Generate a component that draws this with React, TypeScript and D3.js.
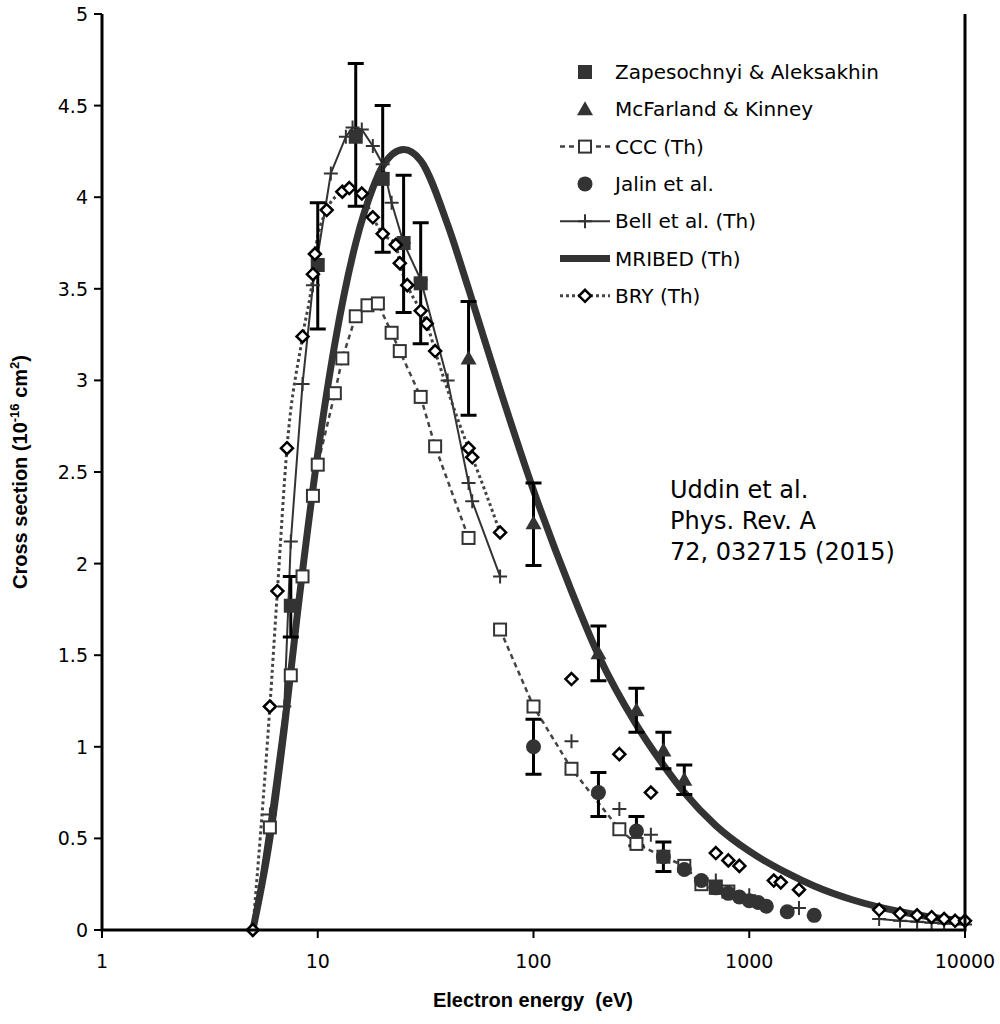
import React from "react";
import * as d3 from "d3";

type P = [number, number];
type E = [number, number, number, number];

const zapesochnyi: E[] = [[7.5, 1.77, 1.6, 1.93], [10, 3.63, 3.28, 3.97], [15, 4.33, 3.95, 4.73], [20, 4.1, 3.7, 4.5], [25, 3.75, 3.37, 4.12], [30, 3.53, 3.2, 3.86]];
const mcfarland: E[] = [[50, 3.12, 2.81, 3.43], [100, 2.22, 1.99, 2.44], [200, 1.51, 1.36, 1.66], [300, 1.2, 1.08, 1.32], [400, 0.98, 0.88, 1.08], [500, 0.82, 0.74, 0.9]];
const jalinErr: E[] = [[100, 1.0, 0.85, 1.15], [200, 0.75, 0.62, 0.86], [300, 0.54, 0.46, 0.62], [400, 0.4, 0.32, 0.48]];
const jalin: P[] = [[500, 0.33], [600, 0.27], [700, 0.23], [800, 0.2], [900, 0.18], [1000, 0.16], [1100, 0.15], [1200, 0.13], [1500, 0.1], [2000, 0.08]];
const cccA: P[] = [[6, 0.56], [7.5, 1.39], [8.5, 1.93], [9.5, 2.37], [10, 2.54], [12, 2.93], [13, 3.12], [15, 3.35], [17, 3.41], [19, 3.42], [22, 3.26], [24, 3.16], [30, 2.91], [35, 2.64], [50, 2.14]];
const cccB: P[] = [[70, 1.64], [100, 1.22], [150, 0.88], [250, 0.55], [300, 0.47], [400, 0.4], [500, 0.35], [600, 0.25], [700, 0.23], [800, 0.21]];
const bellA: P[] = [[5, 0], [6, 0.63], [7, 1.22], [7.5, 2.12], [8.5, 2.98], [9.5, 3.52], [11.5, 4.13], [13.5, 4.33], [14.5, 4.38], [16, 4.37], [18, 4.28], [20, 4.18], [22, 3.97], [25, 3.75], [30, 3.55], [40, 3.0], [50, 2.44], [52, 2.34], [70, 1.93]];
const bellB: P[] = [[150, 1.03], [250, 0.66], [350, 0.52], [700, 0.27], [1000, 0.19], [1700, 0.12]];
const bellC: P[] = [[4000, 0.06], [5000, 0.05], [6000, 0.045], [7000, 0.04], [8000, 0.035], [10000, 0.03]];
const bryA: P[] = [[5, 0], [6, 1.22], [6.5, 1.85], [7.2, 2.63], [8.5, 3.24], [9.5, 3.58], [9.7, 3.69], [11, 3.93], [13, 4.03], [14, 4.05], [16, 4.02], [18, 3.89], [20, 3.8], [23, 3.74], [24, 3.64], [26, 3.52], [30, 3.38], [32, 3.31], [35, 3.16], [50, 2.63], [52, 2.58], [70, 2.17]];
const bryB: P[] = [[150, 1.37], [250, 0.96], [350, 0.75], [700, 0.42], [800, 0.38], [900, 0.35], [1300, 0.27], [1400, 0.26], [1700, 0.22], [4000, 0.11], [5000, 0.09], [6000, 0.08], [7000, 0.07], [8000, 0.06], [9000, 0.05], [10000, 0.05]];
const mribed: P[] = [[5, 0], [6, 0.5], [7, 1.1], [8, 1.7], [10, 2.6], [12, 3.2], [15, 3.75], [18, 4.05], [20, 4.17], [25, 4.26], [30, 4.2], [40, 3.85], [50, 3.5], [70, 2.95], [100, 2.4], [150, 1.85], [200, 1.5], [300, 1.12], [400, 0.9], [500, 0.75], [700, 0.57], [1000, 0.43], [1500, 0.31], [2000, 0.24], [3000, 0.165], [5000, 0.1], [7000, 0.07], [10000, 0.05]];

const xTicks = [1, 10, 100, 1000, 10000];
const yTicks = [0, 0.5, 1, 1.5, 2, 2.5, 3, 3.5, 4, 4.5, 5];
const legendItems = ["Zapesochnyi & Aleksakhin", "McFarland & Kinney", "CCC (Th)", "Jalin et al.", "Bell et al. (Th)", "MRIBED (Th)", "BRY (Th)"];
const note = ["Uddin et al.", "Phys. Rev. A", "72, 032715 (2015)"];

const C = "#333";
const x = d3.scaleLog().domain([1, 10000]).range([102, 965]);
const y = d3.scaleLinear().domain([0, 5]).range([930, 14]);
const line = d3.line<P>().x(d => x(d[0])).y(d => y(d[1]));
const curve = d3.line<P>().x(d => x(d[0])).y(d => y(d[1])).curve(d3.curveMonotoneX);

const Sq = ({ cx, cy, fill }: { cx: number; cy: number; fill: string }) => <rect x={cx - 6} y={cy - 6} width={12} height={12} fill={fill} stroke={C} strokeWidth={2} />;
const Tri = ({ cx, cy }: { cx: number; cy: number }) => <path d={`M${cx},${cy - 8}L${cx + 8},${cy + 6}L${cx - 8},${cy + 6}Z`} fill={C} />;
const Dot = ({ cx, cy }: { cx: number; cy: number }) => <circle cx={cx} cy={cy} r={7.5} fill={C} />;
const Plus = ({ cx, cy }: { cx: number; cy: number }) => <path d={`M${cx - 7},${cy}H${cx + 7}M${cx},${cy - 7}V${cy + 7}`} stroke={C} strokeWidth={2} />;
const Dia = ({ cx, cy }: { cx: number; cy: number }) => <path d={`M${cx},${cy - 6}L${cx + 6},${cy}L${cx},${cy + 6}L${cx - 6},${cy}Z`} fill="#fff" stroke="#000" strokeWidth={2.5} />;
const Err = ({ d }: { d: E }) => {
  const cx = x(d[0]);
  return <path d={`M${cx},${y(d[2])}V${y(d[3])}M${cx - 8},${y(d[2])}H${cx + 8}M${cx - 8},${y(d[3])}H${cx + 8}`} stroke="#000" strokeWidth={3} />;
};

export default function App() {
  return (
    <svg width={1000} height={1024} style={{ position: "absolute", left: 0, top: 0 }} fontFamily="Liberation Sans, Arial, sans-serif">
      <rect width={1000} height={1024} fill="#fff" />
      {/* lines */}
      <path d={line(cccA)!} fill="none" stroke="#444" strokeWidth={2.5} strokeDasharray="5,4" />
      <path d={line(cccB)!} fill="none" stroke="#444" strokeWidth={2.5} strokeDasharray="5,4" />
      <path d={line(bellA)!} fill="none" stroke={C} strokeWidth={2} />
      <path d={line(bellC)!} fill="none" stroke={C} strokeWidth={2} />
      <path d={curve(bryA)!} fill="none" stroke="#444" strokeWidth={3} strokeDasharray="3,3" />
      <path d={curve(mribed)!} fill="none" stroke={C} strokeWidth={7} />
      {/* markers */}
      {[...zapesochnyi, ...mcfarland, ...jalinErr].map((d, i) => <Err key={"e" + i} d={d} />)}
      {cccA.concat(cccB).map((d, i) => <Sq key={"c" + i} cx={x(d[0])} cy={y(d[1])} fill="#fff" />)}
      {bellA.concat(bellB, bellC).map((d, i) => <Plus key={"b" + i} cx={x(d[0])} cy={y(d[1])} />)}
      {zapesochnyi.map((d, i) => <Sq key={"z" + i} cx={x(d[0])} cy={y(d[1])} fill={C} />)}
      {mcfarland.map((d, i) => <Tri key={"m" + i} cx={x(d[0])} cy={y(d[1])} />)}
      {jalinErr.map(d => [d[0], d[1]] as P).concat(jalin).map((d, i) => <Dot key={"j" + i} cx={x(d[0])} cy={y(d[1])} />)}
      {bryA.concat(bryB).map((d, i) => <Dia key={"r" + i} cx={x(d[0])} cy={y(d[1])} />)}
      {/* axes */}
      <path d={`M${x(1)},${y(5)}V${y(0)}H${x(10000)}V${y(5)}`} fill="none" stroke="#000" strokeWidth={3} />
      {xTicks.map(t => (
        <g key={t}>
          <line x1={x(t)} x2={x(t)} y1={y(0)} y2={y(0) + 8} stroke="#000" strokeWidth={2} />
          <text x={x(t)} y={y(0) + 38} textAnchor="middle" fontSize={19} fontFamily="DejaVu Sans">{t}</text>
        </g>
      ))}
      {yTicks.map(t => (
        <g key={t}>
          <line x1={x(1) - 8} x2={x(1)} y1={y(t)} y2={y(t)} stroke="#000" strokeWidth={2} />
          <text x={x(1) - 14} y={y(t) + 7} textAnchor="end" fontSize={19} fontFamily="DejaVu Sans">{t}</text>
        </g>
      ))}
      <text x={533} y={1007} textAnchor="middle" fontSize={20} fontWeight="bold" style={{ whiteSpace: "pre" }}>Electron energy  (eV)</text>
      <text transform="translate(27,472) rotate(-90)" textAnchor="middle" fontSize={20} fontWeight="bold">
        Cross section (10<tspan dy={-8} fontSize={13}>-16</tspan><tspan dy={8}> cm</tspan><tspan dy={-8} fontSize={13}>2</tspan><tspan dy={8}>)</tspan>
      </text>
      {/* legend */}
      {legendItems.map((name, i) => {
        const ly = 72 + i * 37.3;
        const cx = 585;
        return (
          <g key={name}>
            {i === 0 && <Sq cx={cx} cy={ly} fill={C} />}
            {i === 1 && <Tri cx={cx} cy={ly} />}
            {i === 2 && <><line x1={560} x2={610} y1={ly} y2={ly} stroke="#444" strokeWidth={2.5} strokeDasharray="5,4" /><Sq cx={cx} cy={ly} fill="#fff" /></>}
            {i === 3 && <Dot cx={cx} cy={ly} />}
            {i === 4 && <><line x1={560} x2={610} y1={ly} y2={ly} stroke={C} strokeWidth={2} /><Plus cx={cx} cy={ly} /></>}
            {i === 5 && <line x1={560} x2={610} y1={ly} y2={ly} stroke={C} strokeWidth={7} />}
            {i === 6 && <><line x1={560} x2={610} y1={ly} y2={ly} stroke="#444" strokeWidth={3} strokeDasharray="3,3" /><Dia cx={cx} cy={ly} /></>}
            <text x={615} y={ly + 7} fontSize={20} fontFamily="DejaVu Sans">{name}</text>
          </g>
        );
      })}
      {note.map((s, i) => <text key={s} x={670} y={498 + i * 31} fontSize={24} fontFamily="DejaVu Sans">{s}</text>)}
    </svg>
  );
}
